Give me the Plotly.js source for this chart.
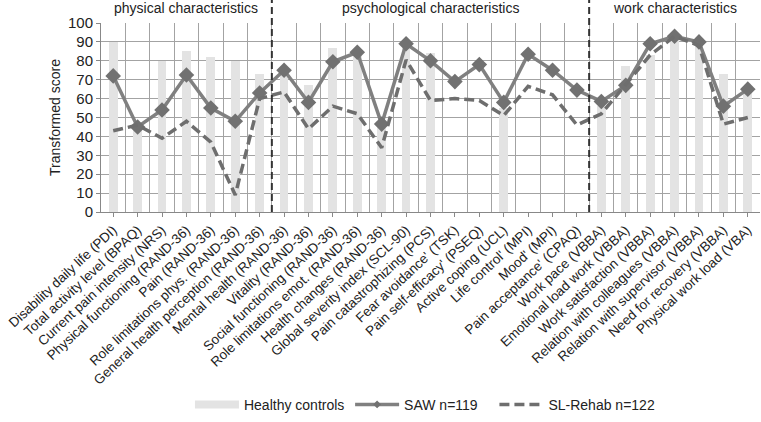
<!DOCTYPE html>
<html><head><meta charset="utf-8">
<script src="https://cdn.plot.ly/plotly-3.0.1.min.js"></script>
<style>html,body{margin:0;padding:0;background:#fff}#chart{width:761px;height:422px}</style>
</head><body><div id="chart"></div>
<script>
const categories = [
  "Disability daily life (PDI)","Total activity level (BPAQ)","Current pain intensity (NRS)",
  "Physical functioning (RAND-36)","Pain (RAND-36)","Role limitations phys. (RAND-36)",
  "General health perception (RAND-36)","Mental health (RAND-36)","Vitality (RAND-36)",
  "Social functioning (RAND-36)","Role limitations emot. (RAND-36)","Health changes (RAND-36)",
  "Global severity index (SCL-90)","Pain catastrophizing (PCS)","Fear avoidance' (TSK)",
  "Pain self-efficacy' (PSEQ)","Active coping (UCL)","Life control' (MPI)","Mood' (MPI)",
  "Pain acceptance' (CPAQ)","Work pace (VBBA)","Emotional load work (VBBA)",
  "Work satisfaction (VBBA)","Relation with colleagues (VBBA)","Relation with supervisor (VBBA)",
  "Need for recovery (VBBA)","Physical work load (VBA)"
];
const healthyControls = [90,45,80,85,82,80,73,74,67,87,86,45,87,84,null,null,55,null,null,null,56,77,83,91,89,73,63];
const saw = [72,45,54,72.5,55,48,63,75,58,79.5,84.5,46.5,89,80,69,78,58,83.5,75,64.5,58.5,67,89,93,90,56,65];
const slRehab = [43,46,39,48,37,9,60,63.5,44,56,52,34,80.5,59,60,59,51,66.5,62,46,52,67.5,83,93,88,46.5,50];
const groupNames = ["physical characteristics","psychological characteristics","work characteristics"];
const groupSizes = [7,13,7];
const seriesNames = ["Healthy controls","SAW n=119","SL-Rehab n=122"];

const idx = categories.map((c,i)=>i);
const font = "Liberation Sans, Arial, sans-serif";
const gridCol = "#a3a3a3";
const sawLine = {color:"#808080", width:3.5};
const slLine = {color:"#6e6e6e", width:3.5, dash:"10px,5px"};

const traces = [
  {type:"bar", x:idx, y:healthyControls, width:0.36, marker:{color:"#e3e3e3"}, showlegend:false, hoverinfo:"skip"},
  {type:"scatter", mode:"lines+markers", x:idx, y:saw, showlegend:false,
   line:sawLine, marker:{symbol:"diamond", size:12, color:"#717171"}},
  {type:"scatter", mode:"lines", x:idx, y:slRehab, showlegend:false, line:slLine},
  {type:"scatter", mode:"lines", x:[null], y:[null], name:seriesNames[0], legend:"legend",
   line:{color:"#e3e3e3", width:8}},
  {type:"scatter", mode:"lines+markers", x:[null], y:[null], name:seriesNames[1], legend:"legend2",
   line:{color:"#808080", width:3.5}, marker:{symbol:"diamond", size:6, color:"#717171"}},
  {type:"scatter", mode:"lines", x:[null], y:[null], name:seriesNames[2], legend:"legend3", line:slLine}
];

const shapes = [];
const annotations = [];
let start = 0;
groupSizes.forEach((n,g)=>{
  const end = start + n;
  annotations.push({xref:"x", yref:"paper", x:(start+end-1)/2, y:1.08, text:groupNames[g],
    showarrow:false, xanchor:"center", yanchor:"middle", font:{size:14, color:"#222", family:font}});
  if (g < groupSizes.length-1) {
    shapes.push({type:"line", xref:"x", yref:"paper", x0:end-0.5, x1:end-0.5, y0:0, y1:1.13,
      line:{color:"#333", width:2, dash:"7px,4px"}});
  }
  start = end;
});

const legBase = {orientation:"h", xanchor:"left", y:-1.02, yanchor:"middle",
  font:{size:14, color:"#222"}, bgcolor:"rgba(0,0,0,0)", itemwidth:44};

const layout = {
  width:761, height:422,
  margin:{l:101, r:1, t:23, b:210},
  paper_bgcolor:"#fff", plot_bgcolor:"#fff",
  font:{family:font, color:"#222"},
  bargap:0,
  xaxis:{range:[-0.5, categories.length-0.5], tickmode:"array", tickvals:idx, ticktext:categories,
    tickangle:-43, tickfont:{size:13.5, color:"#222"}, ticks:"outside", ticklen:4, tickcolor:"#888",
    showgrid:false, zeroline:false, showline:true, linecolor:"#888", linewidth:1,
    minor:{showgrid:true, tick0:-0.5, dtick:1, gridcolor:gridCol, gridwidth:1, ticks:""}},
  yaxis:{range:[0,100], dtick:10, tickfont:{size:15, color:"#222"}, ticks:"outside", ticklen:4,
    tickcolor:"#888", showgrid:true, gridcolor:gridCol, gridwidth:1, zeroline:false,
    showline:true, linecolor:"#888", linewidth:1,
    title:{text:"Transformed score", font:{size:14, color:"#222"}, standoff:4}},
  showlegend:true,
  legend:Object.assign({}, legBase, {x:0.135}),
  legend2:Object.assign({}, legBase, {x:0.378}),
  legend3:Object.assign({}, legBase, {x:0.597}),
  shapes, annotations
};

Plotly.newPlot("chart", traces, layout, {displayModeBar:false, staticPlot:true});
</script></body></html>
